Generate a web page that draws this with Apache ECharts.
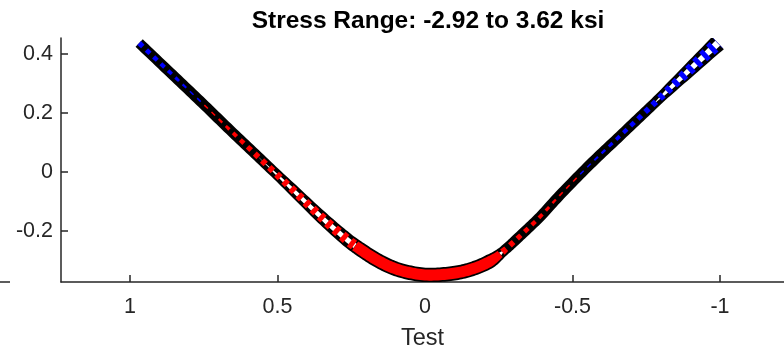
<!DOCTYPE html>
<html><head><meta charset="utf-8">
<script src="https://cdn.jsdelivr.net/npm/echarts@6/dist/echarts.min.js"></script>
<style>html,body{margin:0;padding:0;background:#fff}#c{width:784px;height:352px}</style>
</head><body><div id="c"></div>
<script>
// ---------- data ----------
const titleText = 'Stress Range: -2.92 to 3.62 ksi';
const xLabel = 'Test';
const xTicks = [1, 0.5, 0, -0.5, -1];
const yTicks = [-0.2, 0, 0.2, 0.4];
// centreline of the deformed member (x, y) and stress along it (ksi)
const posX = [0.969, 0.864, 0.763, 0.661, 0.559, 0.458, 0.356, 0.271, 0.220, 0.153, 0.085, 0, -0.085, -0.153, -0.220, -0.271, -0.322, -0.390, -0.458, -0.559, -0.661, -0.763, -0.864, -0.993];
const posY = [0.437, 0.337, 0.241, 0.142, 0.045, -0.051, -0.149, -0.224, -0.262, -0.304, -0.333, -0.349, -0.345, -0.331, -0.303, -0.264, -0.217, -0.152, -0.078, 0.025, 0.122, 0.219, 0.315, 0.437];
const stress = [1.4, 1.0, 0.1, -0.9, -1.6, -2.0, -2.4, -2.7, -2.85, -2.92, -2.92, -2.92, -2.92, -2.9, -2.85, -1.6, -1.3, -1.0, -0.5, 0.4, 1.0, 1.5, 2.4, 3.62];

// ---------- styling ----------
const TXT = '#262626';
const FONT = 'Liberation Sans';
const K = 3.8;            // px per ksi
const SOLID_FROM = 0.24, SOLID_TO = -0.255;
const PERIOD = 10, DASH = 5;

function renderBand(params, api) {
  if (params.dataIndex !== 0) return null;
  const n = posX.length;
  const P = posX.map((x, i) => api.coord([x, posY[i]]));
  const pts = [], S = [], X = [];
  const sub = 12;
  for (let i = 0; i < n - 1; i++) {
    const p0 = P[Math.max(0, i - 1)], p1 = P[i], p2 = P[i + 1], p3 = P[Math.min(n - 1, i + 2)];
    for (let k = 0; k < sub; k++) {
      const t = k / sub, t2 = t * t, t3 = t2 * t;
      const f = (a, b, c, d) => 0.5 * (2 * b + (-a + c) * t + (2 * a - 5 * b + 4 * c - d) * t2 + (-a + 3 * b - 3 * c + d) * t3);
      pts.push([f(p0[0], p1[0], p2[0], p3[0]), f(p0[1], p1[1], p2[1], p3[1])]);
      S.push(stress[i] + (stress[i + 1] - stress[i]) * t);
      X.push(posX[i] + (posX[i + 1] - posX[i]) * t);
    }
  }
  pts.push(P[n - 1]); S.push(stress[n - 1]); X.push(posX[n - 1]);
  const m = pts.length;
  const N = [], L = [0];
  for (let i = 0; i < m; i++) {
    const a = pts[Math.max(0, i - 1)], b = pts[Math.min(m - 1, i + 1)];
    let tx = b[0] - a[0], ty = b[1] - a[1];
    const l = Math.hypot(tx, ty) || 1;
    N.push([-ty / l, tx / l]);
    if (i > 0) L.push(L[i - 1] + Math.hypot(pts[i][0] - pts[i - 1][0], pts[i][1] - pts[i - 1][1]));
  }
  const W = S.map(s => Math.abs(s) * K);
  const BW = W.map(w => Math.max(10.5, w + 3.5));
  const WW = W.map(w => Math.max(0, Math.min((w - 6) * 2, w * 0.5)));
  const children = [];
  function strip(i0, i1, widths, fill) {
    const left = [], right = [];
    for (let i = i0; i <= i1; i++) {
      const h = widths[i] / 2;
      left.push([pts[i][0] + N[i][0] * h, pts[i][1] + N[i][1] * h]);
      right.push([pts[i][0] - N[i][0] * h, pts[i][1] - N[i][1] * h]);
    }
    children.push({ type: 'polygon', shape: { points: left.concat(right.reverse()) }, style: { fill: fill } });
  }
  strip(0, m - 1, BW, '#000');
  let sA = 0, sB = m - 1;
  while (sA < m && X[sA] > SOLID_FROM) sA++;
  while (sB > 0 && X[sB] < SOLID_TO) sB--;
  strip(0, sA, WW, '#fff');
  strip(sB, m - 1, WW, '#fff');
  strip(sA, sB, W, '#ff0000');
  function at(a) {
    let i = 0;
    while (i < m - 2 && L[i + 1] < a) i++;
    const seg = (L[i + 1] - L[i]) || 1;
    const t = Math.min(1, Math.max(0, (a - L[i]) / seg));
    const lerp = (u, v) => u + (v - u) * t;
    return {
      p: [lerp(pts[i][0], pts[i + 1][0]), lerp(pts[i][1], pts[i + 1][1])],
      n: [lerp(N[i][0], N[i + 1][0]), lerp(N[i][1], N[i + 1][1])],
      w: lerp(W[i], W[i + 1]), s: lerp(S[i], S[i + 1])
    };
  }
  function dashes(a0, a1) {
    for (let a = a0; a < a1; a += PERIOD) {
      const b = Math.min(a + DASH, a1);
      const A = at(a), B = at(b), M = at((a + b) / 2);
      const wa = Math.max(1.5, A.w) / 2, wb = Math.max(1.5, B.w) / 2;
      children.push({ type: 'polygon', shape: { points: [
        [A.p[0] + A.n[0] * wa, A.p[1] + A.n[1] * wa],
        [B.p[0] + B.n[0] * wb, B.p[1] + B.n[1] * wb],
        [B.p[0] - B.n[0] * wb, B.p[1] - B.n[1] * wb],
        [A.p[0] - A.n[0] * wa, A.p[1] - A.n[1] * wa]] },
        style: { fill: M.s >= 0 ? '#0000ff' : '#ff0000' } });
    }
  }
  dashes(0, L[sA]);
  dashes(L[sB] + 3, L[m - 1]);
  return { type: 'group', children: children };
}

const chart = echarts.init(document.getElementById('c'), null, { renderer: 'canvas' });
chart.setOption({
  animation: false,
  backgroundColor: '#fff',
  grid: { left: 61, right: 0, top: 38, bottom: 70, containLabel: false, outerBoundsMode: 'none' },
  xAxis: {
    type: 'value', inverse: true, min: -1.217, max: 1.234, position: 'bottom',
    name: xLabel, nameLocation: 'middle', nameGap: 45,
    nameTextStyle: { color: TXT, fontSize: 23.5, fontFamily: FONT },
    axisLine: { show: true, onZero: false, lineStyle: { color: TXT, width: 1.5 } },
    axisTick: { show: true, inside: true, length: 7, lineStyle: { color: TXT, width: 1.5 }, customValues: xTicks },
    axisLabel: { color: TXT, fontSize: 21.5, fontFamily: FONT, margin: 14, customValues: xTicks },
    splitLine: { show: false }
  },
  yAxis: {
    type: 'value', min: -0.373, max: 0.454, position: 'left',
    axisLine: { show: true, onZero: false, lineStyle: { color: TXT, width: 1.5 } },
    axisTick: { show: true, inside: true, length: 7, lineStyle: { color: TXT, width: 1.5 }, customValues: yTicks },
    axisLabel: { color: TXT, fontSize: 21.5, fontFamily: FONT, margin: 8, customValues: yTicks },
    splitLine: { show: false }
  },
  graphic: [
    { type: 'text', x: 428, y: 21, style: { text: titleText, textAlign: 'center', textVerticalAlign: 'middle', fill: '#000', font: 'bold 24.5px "Liberation Sans"' } },
    { type: 'line', shape: { x1: 0, y1: 282, x2: 10, y2: 282 }, style: { stroke: TXT, lineWidth: 1.5 } }
  ],
  series: [{
    type: 'custom', coordinateSystem: 'cartesian2d', clip: true,
    data: posX.map((x, i) => [x, posY[i], stress[i]]),
    encode: { x: 0, y: 1 },
    renderItem: renderBand
  }]
});
</script></body></html>
